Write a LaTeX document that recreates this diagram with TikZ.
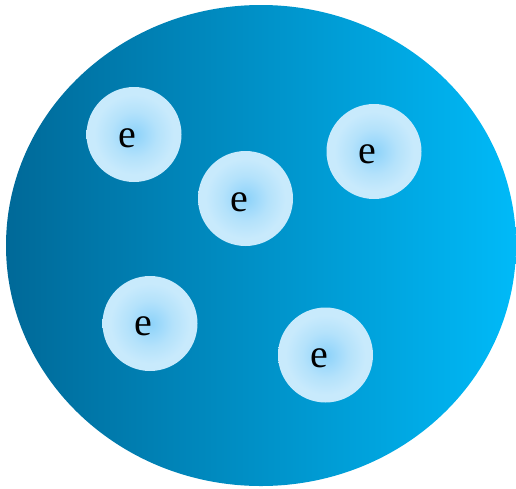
\documentclass[tikz,border=0pt]{standalone}
\usepackage{fontspec}
\setmainfont{Liberation Serif}
\definecolor{blobL}{RGB}{0,105,152}
\definecolor{blobR}{RGB}{0,186,248}
\definecolor{eIn}{RGB}{140,210,250}
\definecolor{eMid}{RGB}{180,226,251}
\definecolor{eOut}{RGB}{200,234,252}
\pgfdeclareradialshading{eglow}{\pgfpoint{0bp}{0bp}}{color(0bp)=(eIn); color(12bp)=(eMid); color(21bp)=(eOut); color(25bp)=(eOut); color(50bp)=(eOut)}
\begin{document}
\begin{tikzpicture}[x=1pt,y=-1pt,
  electron/.style={circle, minimum size=95pt, inner sep=0pt, shading=eglow},
  etext/.style={inner sep=0pt, font=\fontsize{40}{40}\selectfont}]
\useasboundingbox (0,0) rectangle (516,488);
\shade[left color=blobL, right color=blobR] (261,245.5) ellipse [x radius=255, y radius=240.5];
\node[electron] (c1) at (134,134.5) {};
\node[electron] (c2) at (245.5,198.5) {};
\node[electron] (c3) at (374,151.5) {};
\node[electron] (c4) at (150,323.5) {};
\node[electron] (c5) at (325.5,355) {};
\node[etext] (t1) at (127.5,138.5) {e};
\node[etext] (t2) at (239,202) {e};
\node[etext] (t3) at (367,154) {e};
\node[etext] (t4) at (143,326) {e};
\node[etext] (t5) at (319,358) {e};
\end{tikzpicture}
\end{document}
